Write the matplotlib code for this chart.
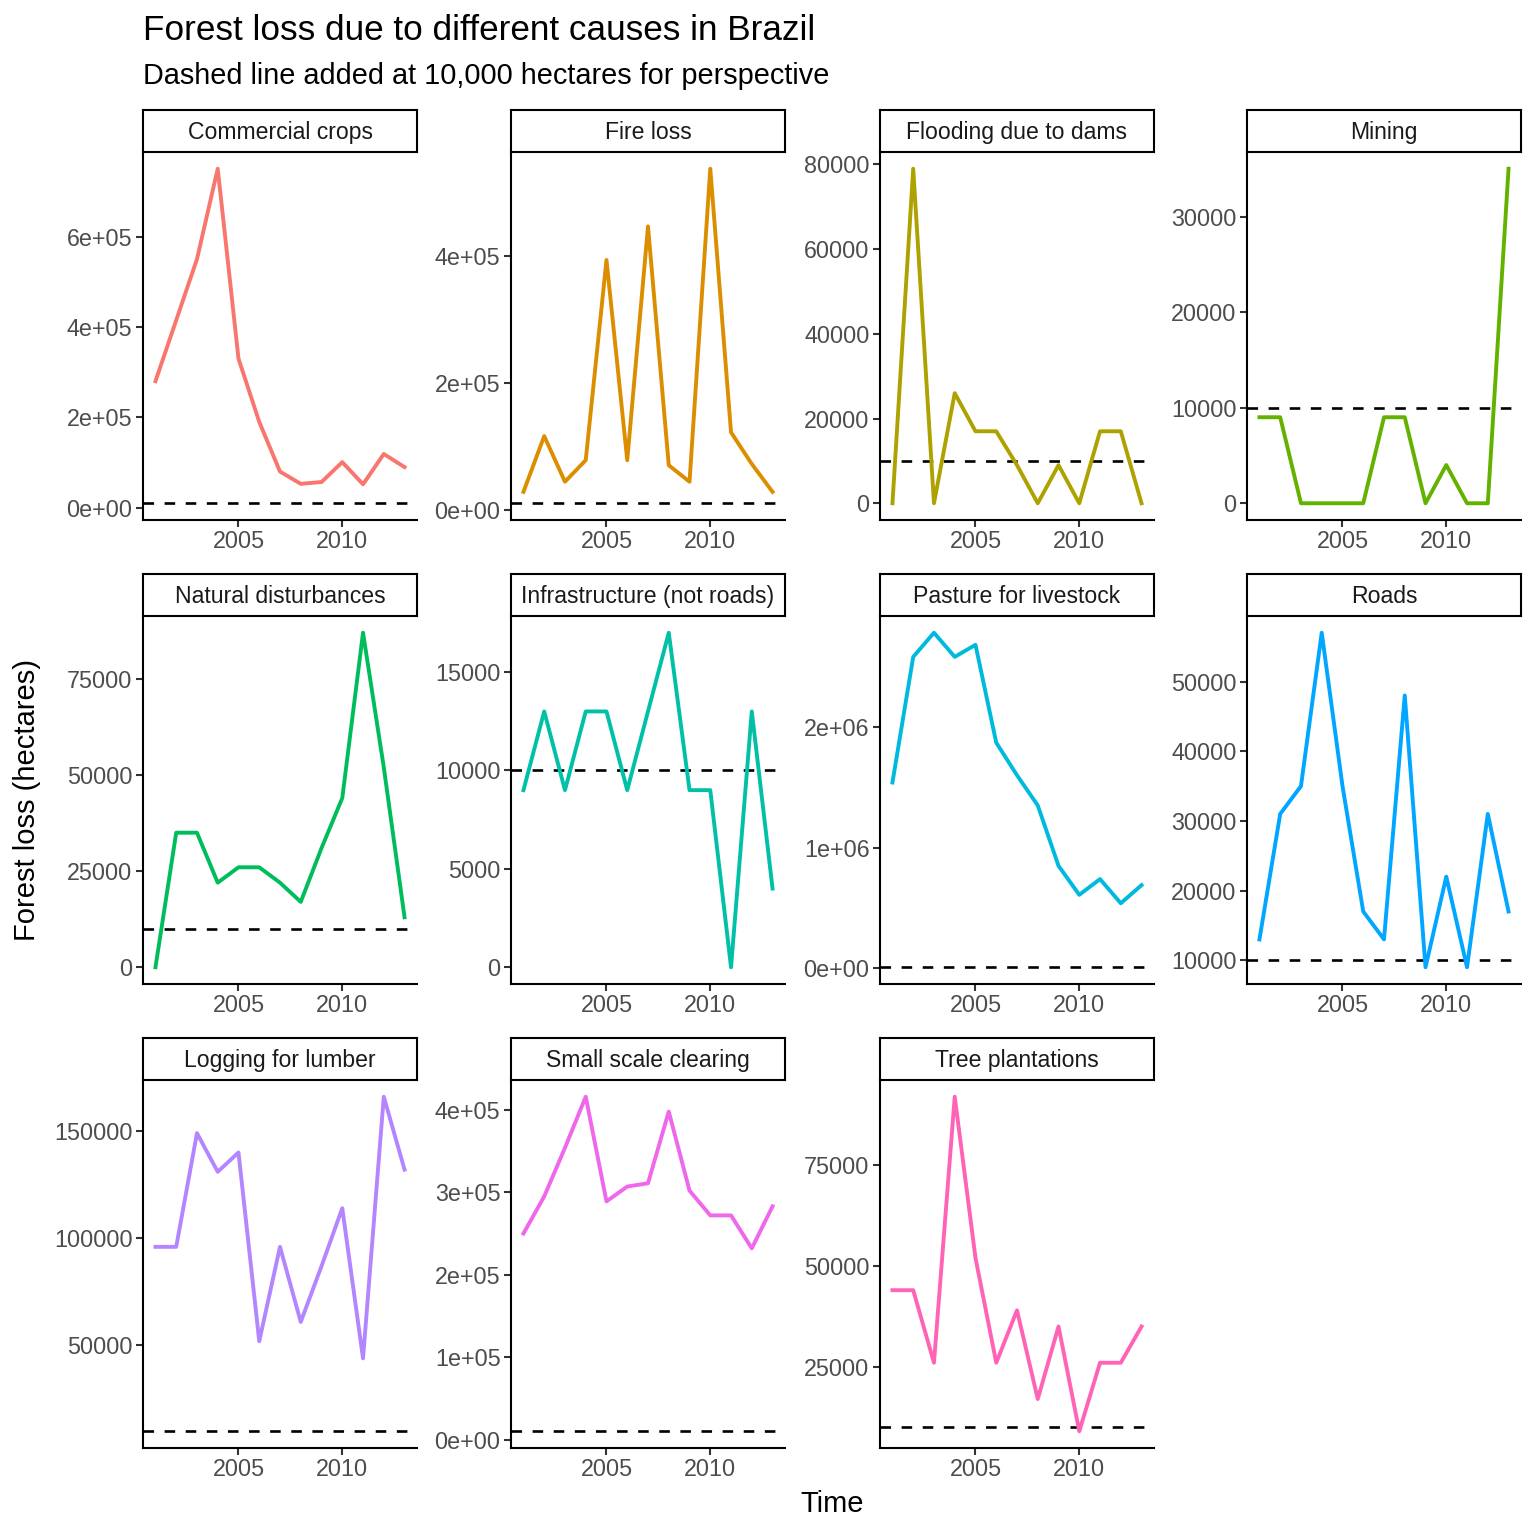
import numpy as np
import matplotlib
matplotlib.use("Agg")
import matplotlib.pyplot as plt

plt.rcParams['font.family'] = ['Liberation Sans', 'DejaVu Sans']

years = list(range(2001, 2014))

causes = ["Commercial crops", "Fire loss", "Flooding due to dams", "Mining",
          "Natural disturbances", "Infrastructure (not roads)", "Pasture for livestock", "Roads",
          "Logging for lumber", "Small scale clearing", "Tree plantations"]

commercial_crops = [280000, 415000, 550000, 750000, 330000, 190000, 80000, 53000, 57000, 101000, 52000, 119000, 90000]
fire_loss = [28000, 116000, 44000, 78000, 394000, 78000, 447000, 70000, 44000, 538000, 122000, 72000, 28000]
flooding_dams = [0, 79000, 0, 26000, 17000, 17000, 9000, 0, 9000, 0, 17000, 17000, 0]
mining = [9000, 9000, 0, 0, 0, 0, 9000, 9000, 0, 4000, 0, 0, 35000]
natural_disturbances = [0, 35000, 35000, 22000, 26000, 26000, 22000, 17000, 31000, 44000, 87000, 52000, 13000]
infrastructure = [9000, 13000, 9000, 13000, 13000, 9000, 13000, 17000, 9000, 9000, 0, 13000, 4000]
pasture = [1540000, 2580000, 2780000, 2580000, 2680000, 1870000, 1600000, 1350000, 850000, 610000, 740000, 540000, 690000]
roads = [13000, 31000, 35000, 57000, 35000, 17000, 13000, 48000, 9000, 22000, 9000, 31000, 17000]
logging_lumber = [96000, 96000, 149000, 131000, 140000, 52000, 96000, 61000, 87000, 114000, 44000, 166000, 132000]
small_scale = [250000, 295000, 354000, 416000, 289000, 307000, 311000, 398000, 302000, 272000, 272000, 232000, 283000]
tree_plantations = [44000, 44000, 26000, 92000, 52000, 26000, 39000, 17000, 35000, 9000, 26000, 26000, 35000]

series = [commercial_crops, fire_loss, flooding_dams, mining,
          natural_disturbances, infrastructure, pasture, roads,
          logging_lumber, small_scale, tree_plantations]

y_ticks = [[0, 2e5, 4e5, 6e5], [0, 2e5, 4e5], [0, 20000, 40000, 60000, 80000], [0, 10000, 20000, 30000],
           [0, 25000, 50000, 75000], [0, 5000, 10000, 15000], [0, 1e6, 2e6], [10000, 20000, 30000, 40000, 50000],
           [50000, 100000, 150000], [0, 1e5, 2e5, 3e5, 4e5], [25000, 50000, 75000]]
sci_labels = [True, True, False, False, False, False, True, False, False, True, False]

colors = ["#F8766D", "#DB8E00", "#AEA200", "#64B200", "#00BD5C", "#00C1A7",
          "#00BADE", "#00A6FF", "#B385FF", "#EF67EB", "#FF63B6"]

x_ticks = [2005, 2010]
ref_line = 10000

W = 1536.0
fig = plt.figure(figsize=(15.36, 15.36), dpi=100)

col_left = [143, 511, 880, 1247]
panel_w = 274
strip_top = [110, 574, 1038]
strip_h = 42
panel_h = 368

axis_lw = 1.5
tick_col = "#333333"
lab_col = "#4D4D4D"

for i, (name, vals) in enumerate(zip(causes, series)):
    r, c = divmod(i, 4)
    x0 = col_left[c] / W
    ptop = strip_top[r] + strip_h
    ax = fig.add_axes([x0, 1 - (ptop + panel_h) / W, panel_w / W, panel_h / W])
    ax.plot(years, vals, color=colors[i], lw=2.8, zorder=3)
    ax.axhline(ref_line, color="black", lw=1.9, ls=(0, (4, 4)), zorder=2)

    lo = min(min(vals), ref_line)
    hi = max(max(vals), ref_line)
    pad = (hi - lo) * 0.05
    ax.set_ylim(lo - pad, hi + pad)
    ax.set_xlim(2001 - 0.6, 2013 + 0.6)

    ax.set_xticks(x_ticks)
    ax.set_yticks(y_ticks[i])
    if sci_labels[i]:
        ax.set_yticklabels([f"{v:.0e}" for v in y_ticks[i]])
    else:
        ax.set_yticklabels([f"{int(v)}" for v in y_ticks[i]])

    for s in ["top", "right"]:
        ax.spines[s].set_visible(False)
    for s in ["left", "bottom"]:
        ax.spines[s].set_linewidth(axis_lw)
        ax.spines[s].set_color("black")
    ax.tick_params(axis="both", length=5, width=axis_lw, color=tick_col,
                   labelcolor=lab_col, labelsize=16.8, pad=2.5)

    # strip label
    sax = fig.add_axes([x0, 1 - ptop / W, panel_w / W, strip_h / W])
    sax.set_xticks([])
    sax.set_yticks([])
    for s in sax.spines.values():
        s.set_linewidth(axis_lw)
        s.set_color("black")
    sax.text(0.5, 0.47, name, ha="center", va="center", fontsize=16.6, color="#1A1A1A",
             transform=sax.transAxes)

fig.text(143 / W, 1 - 30 / W, "Forest loss due to different causes in Brazil",
         fontsize=25.3, ha="left", va="center")
fig.text(143 / W, 1 - 76 / W, "Dashed line added at 10,000 hectares for perspective",
         fontsize=20.8, ha="left", va="center")
fig.text(832 / W, 1 - 1504 / W, "Time", fontsize=21, ha="center", va="center")
fig.text(27 / W, 1 - 800 / W, "Forest loss (hectares)", fontsize=21, ha="center",
         va="center", rotation=90)

fig.savefig("out.png", dpi=100, facecolor="white")
